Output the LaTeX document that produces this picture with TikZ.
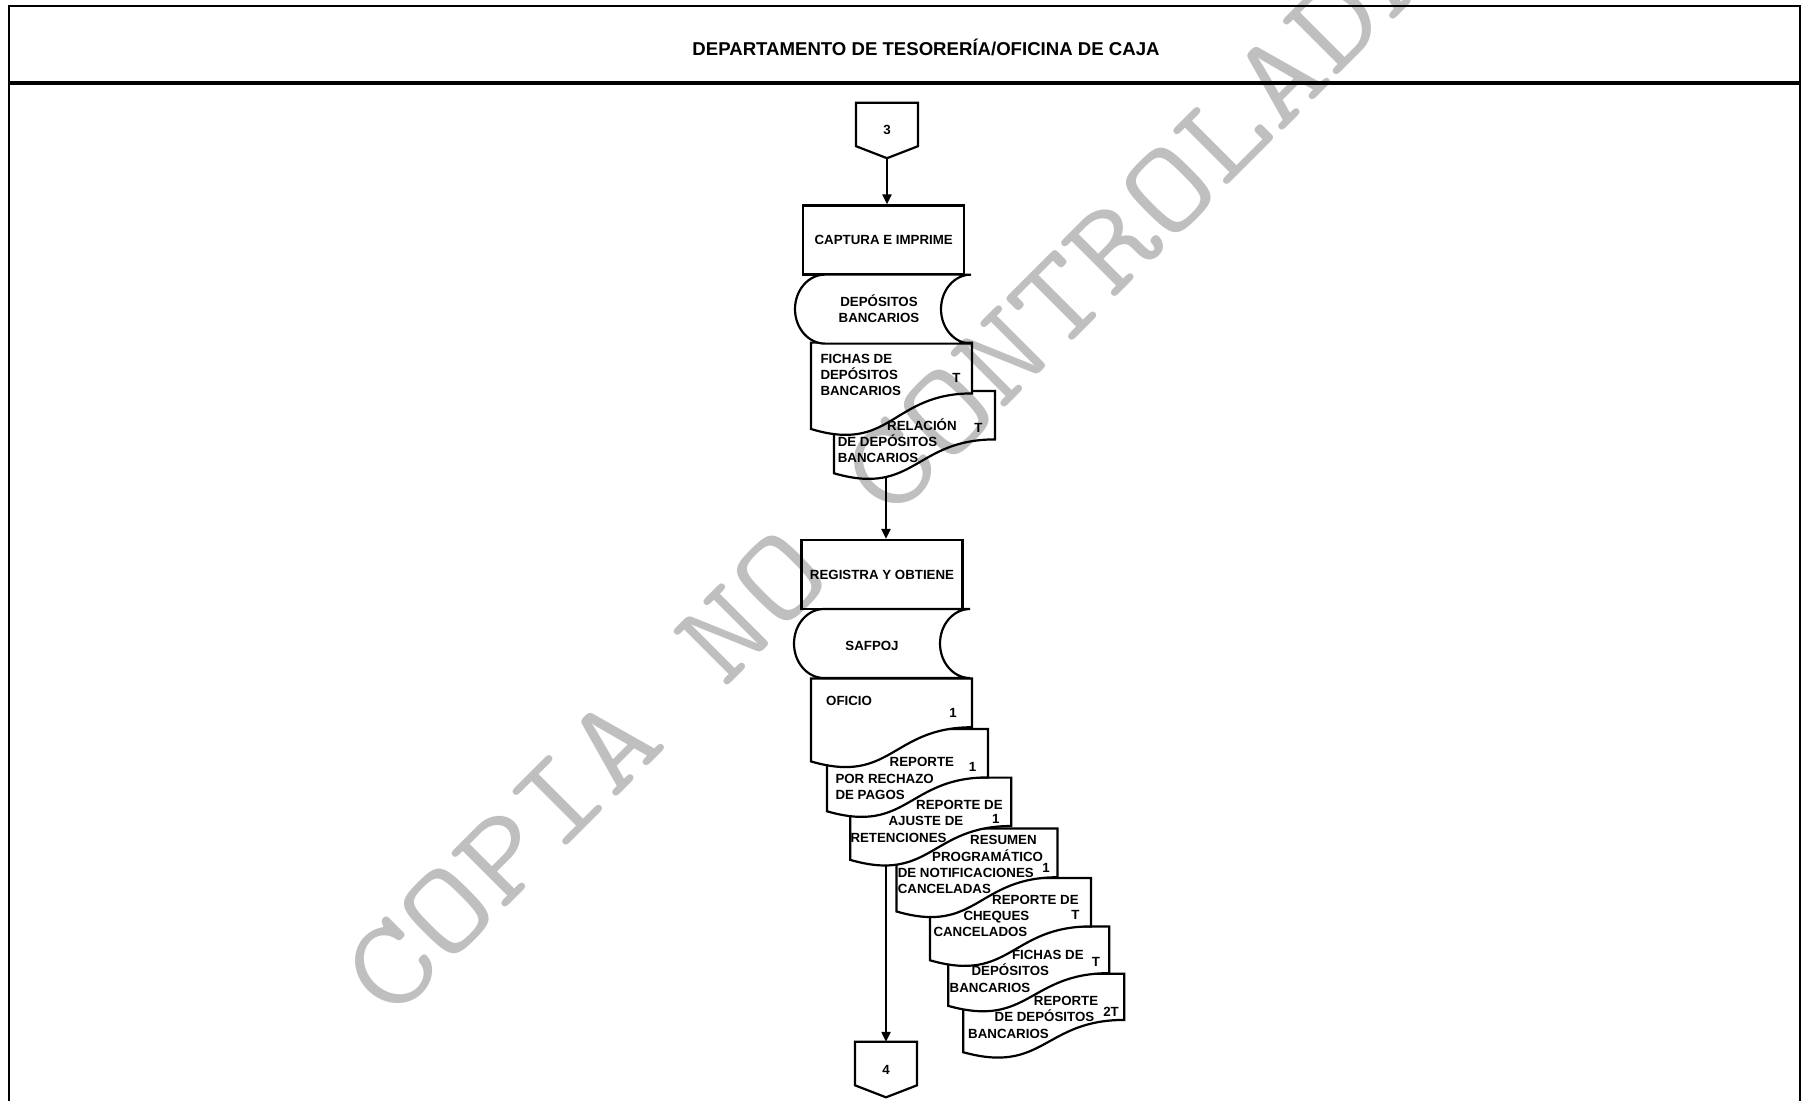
\documentclass[tikz,border=0pt]{standalone}
\usepackage{fontspec}
\setmainfont{Liberation Sans}
\usetikzlibrary{arrows.meta}

\tikzset{
  shapeline/.style={line width=2.2pt},
  lbl/.style={font=\bfseries\fontsize{13.3}{16.2}\selectfont, inner sep=0pt},
  procbox/.style={lbl, shapeline, draw, minimum width=161pt, minimum height=69pt},
  doctext/.style={lbl, align=left, anchor=north west, execute at begin node={\rule{0pt}{13pt}}},
  flow/.style={line width=2.2pt, -{Triangle[length=10pt,width=9pt]}},
  docsheet/.pic={
    \draw[shapeline, fill=white] (0,0) -- (161,0) -- (161,0.55*#1)
      .. controls (80.5,0.55*#1) and (80.5,1.2*#1) .. (0,0.935*#1) -- cycle;
  },
  stored/.pic={
    \draw[shapeline, fill=white] (0,0) -- (146,0)
      arc[start angle=270, end angle=90, x radius=30, y radius=34.5]
      -- (0,69) arc[start angle=90, end angle=270, x radius=30, y radius=34.5] -- cycle;
  },
  offpage/.pic={
    \draw[shapeline, fill=white] (-31,0) -- (31,0) -- (31,43.5) -- (0,55.5) -- (-31,43.5) -- cycle;
    \coordinate (-top) at (0,0);
    \coordinate (-tip) at (0,55.5);
    \node[lbl] (-lbl) at (0,27.7) {#1};
  }
}

\begin{document}
\begin{tikzpicture}[x=1pt, y=-1pt]
  \useasboundingbox (0,0) rectangle (1809,1101);

  \draw[line width=2.2pt] (9,1101) -- (9,6) -- (1800,6) -- (1800,1101);
  \draw[line width=3.3pt] (9,83) -- (1800,83);
  \node[lbl, font=\bfseries\fontsize{18.6}{22}\selectfont, anchor=base] (dept) at (926,55.2)
    {DEPARTAMENTO DE TESORERÍA/OFICINA DE CAJA};

  \pic (c3) at (887,102.7) {offpage=3};
  \node[procbox] (captura) at (883.7,240) {CAPTURA E IMPRIME};
  \pic at (834,391) {docsheet=88};
  \pic at (811,342.6) {docsheet=92.4};
  \pic at (825,274.6) {stored};

  \node[procbox] (registra) at (882,574.5) {REGISTRA Y OBTIENE};
  \pic at (963.3,973.7) {docsheet=84};
  \pic at (948.3,926.4) {docsheet=85};
  \pic at (930,878) {docsheet=88};
  \pic at (896.4,828.4) {docsheet=88.8};
  \pic at (850.3,777.6) {docsheet=88};
  \pic at (827,729) {docsheet=88};
  \pic at (811,678.4) {docsheet=88.8};
  \pic at (824,609) {stored};
  \pic (c4) at (886,1041.8) {offpage=4};

  \coordinate (relfoot) at (886,477);
  \coordinate (ajustefoot) at (886,865.4);
  \draw[flow] (c3-tip) -- (c3-tip |- captura.north);
  \draw[flow] (relfoot) -- (relfoot |- registra.north);
  \draw[flow] (ajustefoot) -- (c4-top);

  \node[lbl, align=center] (deptxt) at (879,308.5) {DEPÓSITOS\\BANCARIOS};
  \node[doctext] (fichas) at (820.3,353.6) {FICHAS DE\\DEPÓSITOS\\BANCARIOS};
  \node[lbl] (fichasn) at (956.5,378) {T};
  \node[doctext] (relacion) at (837.6,418.5) {\hspace*{49.4pt}RELACIÓN\\DE DEPÓSITOS\\BANCARIOS};
  \node[lbl] (relacionn) at (978.3,428) {T};

  \node[lbl] (safpoj) at (872,646) {SAFPOJ};
  \node[doctext] (oficio) at (826,692.1) {OFICIO};
  \node[lbl] (oficion) at (953,713) {1};
  \node[doctext] (rechazo) at (835.3,757.4) {\hspace*{54.2pt}REPORTE\\POR RECHAZO\\DE PAGOS};
  \node[lbl] (rechazon) at (972.6,767.2) {1};
  \node[doctext] (ajuste) at (850.3,800.1) {\hspace*{65.7pt}REPORTE DE\\\hspace*{38.1pt}AJUSTE DE\\RETENCIONES};
  \node[lbl] (ajusten) at (995.7,819) {1};
  \node[doctext] (resumen) at (897.6,835.3) {\hspace*{72.4pt}RESUMEN\\\hspace*{34.4pt}PROGRAMÁTICO\\DE NOTIFICACIONES\\CANCELADAS};
  \node[lbl] (resumenn) at (1046,867.6) {1};
  \node[doctext] (cheques) at (933.3,894.8) {\hspace*{58.7pt}REPORTE DE\\\hspace*{30pt}CHEQUES\\CANCELADOS};
  \node[lbl] (chequesn) at (1075.3,915) {T};
  \node[doctext] (fichasdos) at (949.5,950.1) {\hspace*{62.3pt}FICHAS DE\\\hspace*{21.9pt}DEPÓSITOS\\BANCARIOS};
  \node[lbl] (fichasdosn) at (1096,962.2) {T};
  \node[doctext] (repdep) at (968,996.2) {\hspace*{65.7pt}REPORTE\\\hspace*{26.5pt}DE DEPÓSITOS\\BANCARIOS};
  \node[lbl] (repdepn) at (1111,1011.8) {2T};

  \node[font=\ttfamily\fontsize{127}{127}\selectfont,
        text opacity=0.25, rotate=45, anchor=west, inner sep=0pt]
    (copia) at (363.5,994.9) {\scalebox{1.2}[1]{COPIA NO CONTROLADA}};
\end{tikzpicture}
\end{document}
